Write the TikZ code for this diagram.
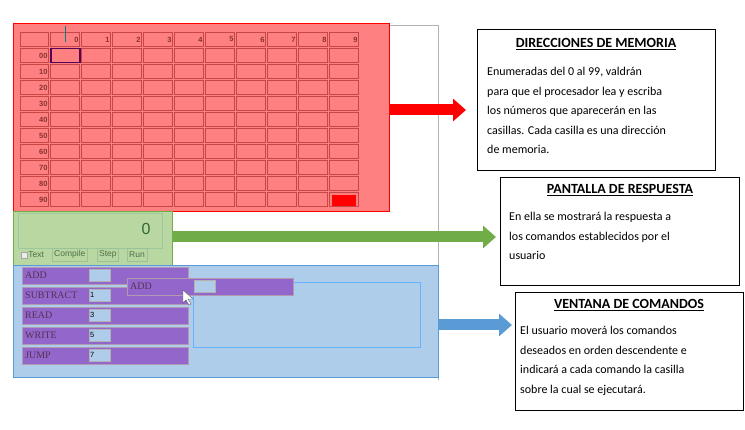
\documentclass[tikz,border=0pt]{standalone}
\usepackage{fontspec}
\setmainfont{Carlito}
\newfontfamily\uifont{Liberation Sans}
\newfontfamily\cmdfont{Liberation Serif}
\usetikzlibrary{arrows.meta,positioning}
\definecolor{memred}{RGB}{255,128,128}
\definecolor{celledge}{RGB}{200,70,70}
\definecolor{dispgreen}{RGB}{185,215,160}
\definecolor{arrgreen}{RGB}{112,173,71}
\definecolor{cmdblue}{RGB}{174,205,234}
\definecolor{arrblue}{RGB}{91,155,213}
\definecolor{cmdviolet}{RGB}{147,102,204}
\definecolor{valfill}{RGB}{175,205,235}
\tikzset{
  cellbox/.style={draw=celledge,fill=memred,line width=0.9pt,minimum width=29pt,minimum height=14pt,inner sep=0pt,anchor=north west},
  cmdbar/.style={fill=cmdviolet,draw=violet!50!black!40,minimum width=166pt,minimum height=17pt,inner sep=2pt,anchor=north west,font=\cmdfont\fontsize{10}{10}\selectfont,text=violet!30!black!80,align=left,text width=160pt},
  valbox/.style={fill=valfill,draw=gray!60,minimum width=21pt,minimum height=12pt,inner sep=1pt,anchor=north west,font=\uifont\fontsize{7.5}{7.5}\selectfont,text width=19pt,align=left},
  uibtn/.style={draw=green!40!black!40,fill=dispgreen,minimum height=13pt,inner sep=2pt,anchor=north west,font=\uifont\fontsize{8.5}{8.5}\selectfont,text=green!20!black!70},
  infobox/.style={draw,line width=0.6pt,anchor=north west,inner sep=0pt},
  infotitle/.style={font=\bfseries\fontsize{14}{14}\selectfont},
  infotext/.style={font=\fontsize{12}{19.5}\selectfont,align=left,anchor=north west,inner sep=0pt},
  bigarrow/.style={line width=11pt,-{Triangle[length=13pt,width=22pt]}}
}
\begin{document}
\begin{tikzpicture}[x=1pt,y=-1pt]
\useasboundingbox (0,0) rectangle (745,430);
% thin frame of the page
\draw[gray!60] (389,25) -- (438,25) -- (438,380);
% memory grid
\node[fill=memred,draw=red,minimum width=376pt,minimum height=188pt,anchor=north west,inner sep=0pt] (memory) at (13,23) {};
\node[cellbox,minimum width=28pt] (hd) at (20,32) {};
\foreach \c in {0,...,9}
  \node[cellbox,font=\uifont\bfseries\fontsize{7.5}{7.5}\selectfont,text=red!40!black!80,align=right,text width=27pt] (h\c) at (50+31*\c,32) {\c};
\foreach \r in {0,...,9} {
  \node[cellbox,minimum width=28pt,font=\uifont\bfseries\fontsize{7.5}{7.5}\selectfont,text=red!40!black!80,align=right,text width=26pt] (r\r) at (20,48+16*\r) {\r0};
  \foreach \c in {0,...,9}
    \node[cellbox] (m\r\c) at (50+31*\c,48+16*\r) {};
}
\node[cellbox,fill=red,draw=none,minimum width=24pt,minimum height=11pt] (mlast) at (332,195) {};
\node[cellbox,draw=violet!70!black,line width=1.5pt,fill=none] (msel) at (50,48) {};
\draw[teal] (65,26) -- (65,42);
% response display
\node[fill=dispgreen,draw=arrgreen,minimum width=159pt,minimum height=54pt,anchor=north west,inner sep=0pt] (display) at (13,211) {};
\node[draw=green!30!gray!60,minimum width=144pt,minimum height=35pt,anchor=north west,inner sep=0pt] (screen) at (18,213) {};
\node[font=\uifont\fontsize{16}{16}\selectfont,text=green!25!black!80,anchor=east] (zero) at (154,229) {0};
\node[draw=gray!70,fill=gray!15,minimum size=6pt,inner sep=0pt] (chk) at (24,255) {};
\node[font=\uifont\fontsize{8.5}{8.5}\selectfont,text=green!20!black!70,right=1pt of chk,inner sep=0pt] (txt) {Text};
\node[uibtn] (compile) at (52,248) {Compile};
\node[uibtn] (stepbtn) at (97,248) {Step};
\node[uibtn] (runbtn) at (127,248) {Run};
% command window
\node[fill=cmdblue,draw=arrblue,minimum width=425pt,minimum height=112pt,anchor=north west,inner sep=0pt] (commands) at (13,265) {};
\node[cmdbar] (add) at (22,267) {ADD};
\node[cmdbar] (sub) at (22,287) {SUBTRACT};
\node[cmdbar] (read) at (22,307) {READ};
\node[cmdbar] (write) at (22,327) {WRITE};
\node[cmdbar] (jump) at (22,347) {JUMP};
\node[valbox] (vadd) at (89,269) {};
\node[valbox] (vsub) at (89,289) {1};
\node[valbox] (vread) at (89,309) {3};
\node[valbox] (vwrite) at (89,329) {5};
\node[valbox] (vjump) at (89,349) {7};
\node[draw=blue!50!cyan!60,line width=0.8pt,minimum width=227pt,minimum height=65pt,anchor=north west,inner sep=0pt] (program) at (193,282) {};
\node[cmdbar] (drag) at (127,278) {ADD};
\node[valbox] (vdrag) at (194,280) {};
\draw[fill=white,draw=gray!70!black] (183,290) -- (183,303) -- (186,300) -- (189,305) -- (191,304) -- (188,299) -- (193,299) -- cycle;
% explanation boxes
\node[infobox,minimum width=238pt,minimum height=141pt] (info1) at (477,29) {};
\node[infotitle] (t1) at (596,44) {\underline{DIRECCIONES DE MEMORIA}};
\node[infotext] (b1) at (487,67) {Enumeradas del 0 al 99, valdrán\\para que el procesador lea y escriba\\los números que aparecerán en las\\casillas. Cada casilla es una dirección\\de memoria.};
\node[infobox,minimum width=239pt,minimum height=108pt] (info2) at (500,177) {};
\node[infotitle] (t2) at (620,190) {\underline{PANTALLA DE RESPUESTA}};
\node[infotext] (b2) at (509,212) {En ella se mostrará la respuesta a\\los comandos establecidos por el\\usuario};
\node[infobox,minimum width=228pt,minimum height=118pt] (info3) at (515,292) {};
\node[infotitle] (t3) at (629,305) {\underline{VENTANA DE COMANDOS}};
\node[infotext] (b3) at (520,326) {El usuario moverá los comandos\\deseados en orden descendente e\\indicará a cada comando la casilla\\sobre la cual se ejecutará.};
% arrows
\draw[bigarrow,red] (memory.east|-0,110) -- (466,110);
\draw[bigarrow,arrgreen] (display.east|-0,237) -- (496,237);
\draw[bigarrow,arrblue] (commands.east|-0,325) -- (512,325);
\end{tikzpicture}
\end{document}
